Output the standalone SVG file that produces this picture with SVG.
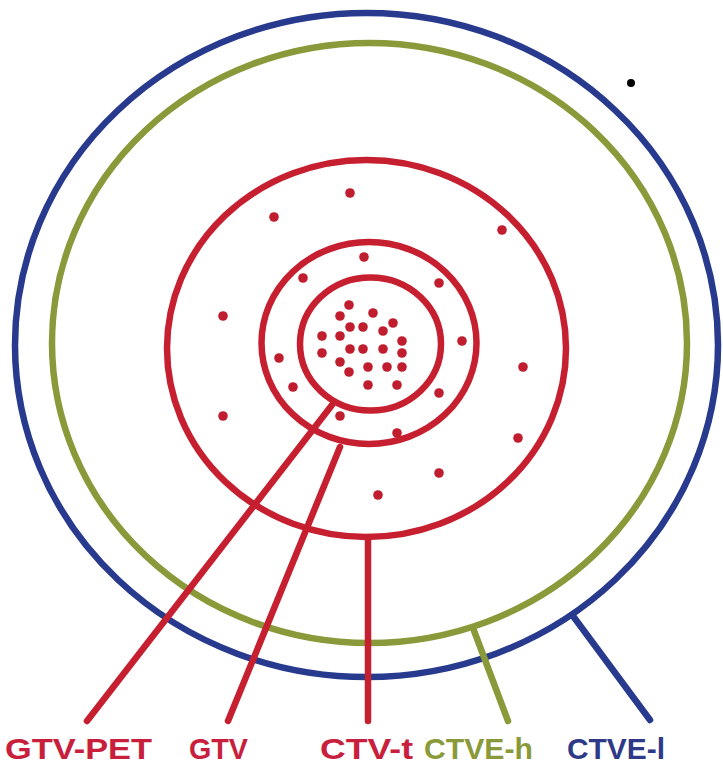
<svg xmlns="http://www.w3.org/2000/svg" width="723" height="767" viewBox="0 0 723 767">
<style>
.ring{fill:none;stroke-width:6.5}
.red{stroke:#C61F2F}
.grn{stroke:#8A9A3A}
.blu{stroke:#283A8E}
.con{fill:none;stroke-width:6.5;stroke-linecap:round}
.dot{fill:#C01E2E}
.lbl{font-family:"Liberation Sans",Arial,sans-serif;font-weight:bold;font-size:30px}
</style>
<rect width="723" height="767" fill="#ffffff"/>
<g id="ctve-l"><ellipse class="ring blu" cx="366.5" cy="345" rx="351.5" ry="332"/></g>
<g id="ctve-h"><ellipse class="ring grn" cx="369.5" cy="343" rx="317.5" ry="300"/></g>
<g id="ctv-t">
<ellipse class="ring red" cx="366.5" cy="348.5" rx="199.5" ry="188.5"/>
<circle class="dot" cx="350" cy="193" r="4.8"/>
<circle class="dot" cx="274" cy="217" r="4.8"/>
<circle class="dot" cx="502" cy="230" r="4.8"/>
<circle class="dot" cx="223" cy="316" r="4.8"/>
<circle class="dot" cx="523" cy="367" r="4.8"/>
<circle class="dot" cx="223" cy="416" r="4.8"/>
<circle class="dot" cx="518" cy="438" r="4.8"/>
<circle class="dot" cx="439" cy="473" r="4.8"/>
<circle class="dot" cx="378" cy="495" r="4.8"/>
</g>
<g id="gtv">
<ellipse class="ring red" cx="369" cy="343" rx="107.5" ry="101"/>
<circle class="dot" cx="364" cy="257" r="4.8"/>
<circle class="dot" cx="303" cy="278" r="4.8"/>
<circle class="dot" cx="439" cy="283" r="4.8"/>
<circle class="dot" cx="462" cy="341" r="4.8"/>
<circle class="dot" cx="279" cy="358" r="4.8"/>
<circle class="dot" cx="293" cy="387" r="4.8"/>
<circle class="dot" cx="439" cy="393" r="4.8"/>
<circle class="dot" cx="340" cy="416" r="4.8"/>
<circle class="dot" cx="397" cy="433" r="4.8"/>
</g>
<g id="gtv-pet">
<ellipse class="ring red" cx="370.5" cy="344" rx="70.5" ry="66.5"/>
<circle class="dot" cx="349" cy="305" r="4.8"/>
<circle class="dot" cx="340" cy="316" r="4.8"/>
<circle class="dot" cx="373" cy="313" r="4.8"/>
<circle class="dot" cx="393" cy="323" r="4.8"/>
<circle class="dot" cx="350" cy="327" r="4.8"/>
<circle class="dot" cx="363" cy="327" r="4.8"/>
<circle class="dot" cx="383" cy="331" r="4.8"/>
<circle class="dot" cx="322" cy="336" r="4.8"/>
<circle class="dot" cx="340" cy="336" r="4.8"/>
<circle class="dot" cx="402" cy="341" r="4.8"/>
<circle class="dot" cx="350" cy="349" r="4.8"/>
<circle class="dot" cx="363" cy="349" r="4.8"/>
<circle class="dot" cx="383" cy="349" r="4.8"/>
<circle class="dot" cx="322" cy="353" r="4.8"/>
<circle class="dot" cx="402" cy="353" r="4.8"/>
<circle class="dot" cx="340" cy="362" r="4.8"/>
<circle class="dot" cx="368" cy="367" r="4.8"/>
<circle class="dot" cx="387" cy="367" r="4.8"/>
<circle class="dot" cx="402" cy="367" r="4.8"/>
<circle class="dot" cx="349" cy="372" r="4.8"/>
<circle class="dot" cx="368" cy="385" r="4.8"/>
<circle class="dot" cx="397" cy="385" r="4.8"/>
</g>
<g id="marker-dot"><circle cx="631" cy="83" r="4" fill="#000000"/></g>
<g id="connectors">
<line class="con red" x1="332" y1="405" x2="87" y2="721"/>
<line class="con red" x1="340" y1="447" x2="228" y2="721"/>
<line class="con red" x1="368" y1="537" x2="368" y2="721"/>
<line class="con grn" x1="473" y1="628" x2="508" y2="721"/>
<line class="con blu" x1="573" y1="616" x2="650" y2="720"/>
</g>
<g id="labels">
<text class="lbl" x="5" y="759" fill="#C8203C" textLength="147" lengthAdjust="spacingAndGlyphs">GTV-PET</text>
<text class="lbl" x="189" y="759" fill="#C8203C" textLength="59" lengthAdjust="spacingAndGlyphs">GTV</text>
<text class="lbl" x="320" y="759" fill="#C8203C" textLength="93" lengthAdjust="spacingAndGlyphs">CTV-t</text>
<text class="lbl" x="424" y="759" fill="#8A9A3A" textLength="109" lengthAdjust="spacingAndGlyphs">CTVE-h</text>
<text class="lbl" x="567" y="759" fill="#2E3A87" textLength="98" lengthAdjust="spacingAndGlyphs">CTVE-l</text>
</g>
</svg>
